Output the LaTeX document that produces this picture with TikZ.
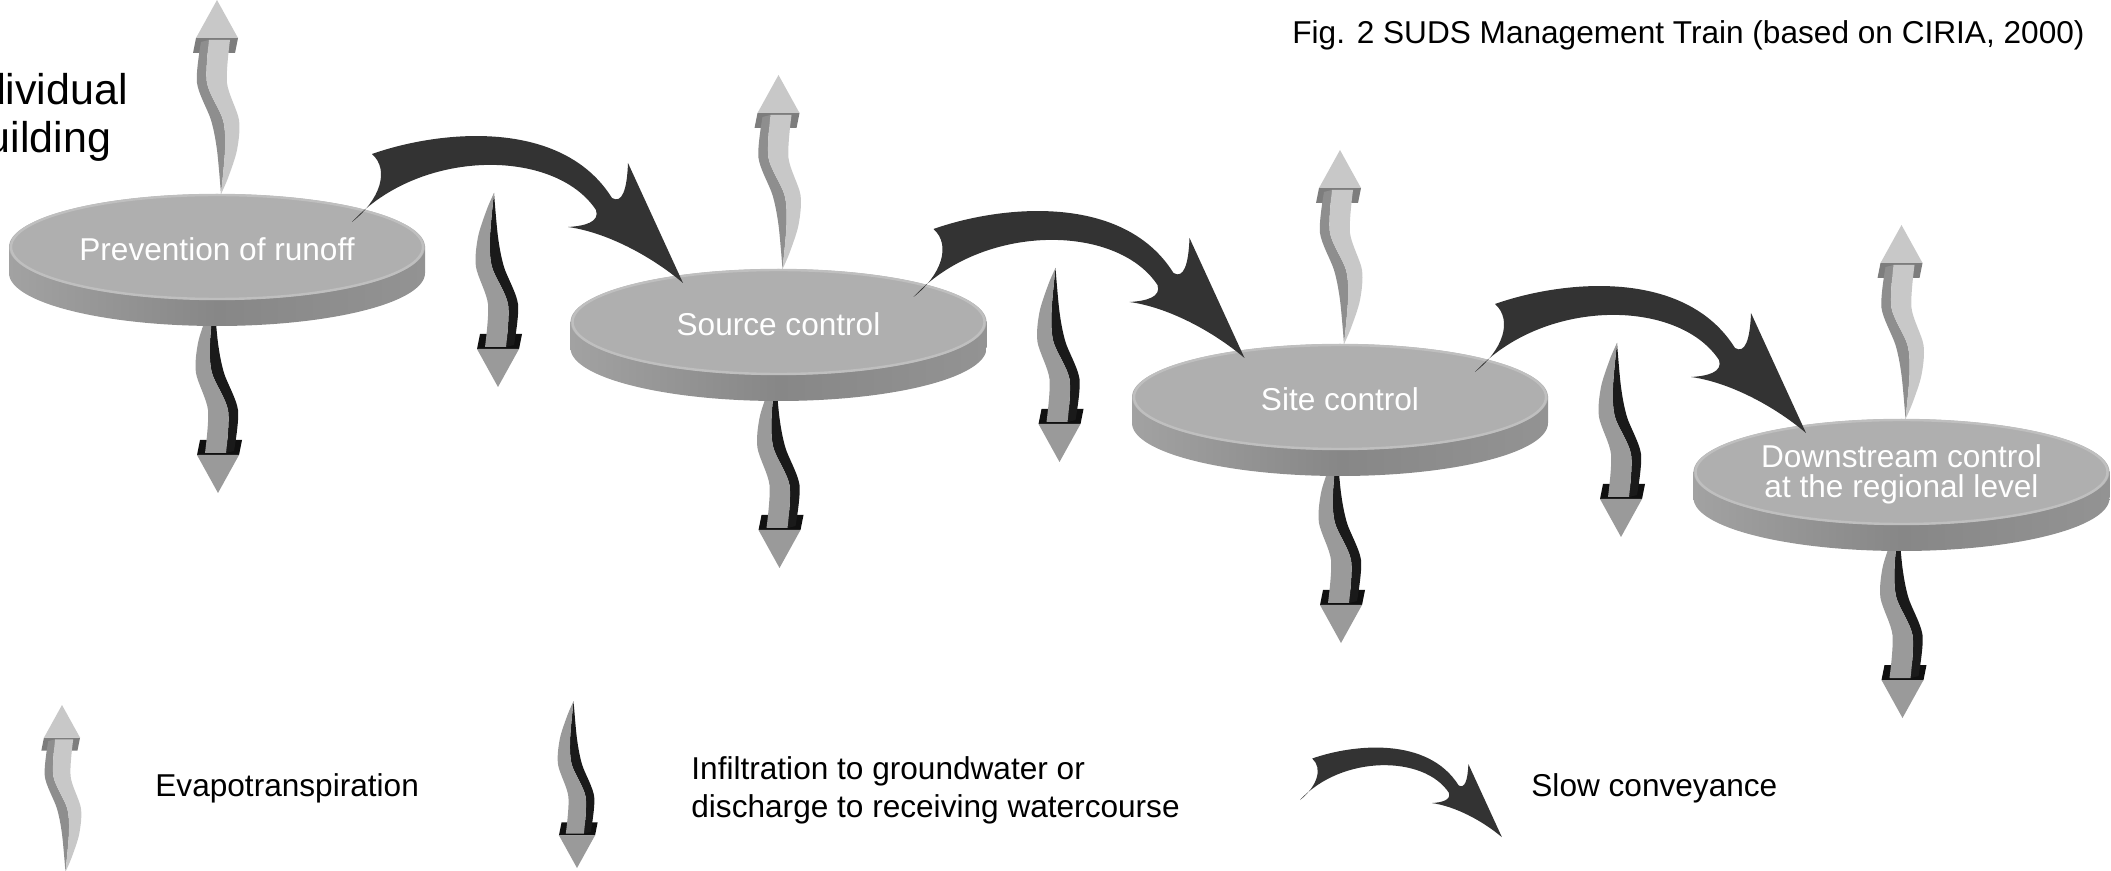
\documentclass[tikz,border=0pt]{standalone}
\usepackage{fontspec}
\setmainfont{Liberation Sans}
\definecolor{evfront}{HTML}{C8C8C8}
\definecolor{evside}{HTML}{8E8E8E}
\definecolor{evband}{HTML}{7D7D7D}
\definecolor{infront}{HTML}{9A9A9A}
\definecolor{inside}{HTML}{1A1A1A}
\definecolor{inband}{HTML}{101010}
\definecolor{convcol}{HTML}{333333}
\definecolor{disctop}{HTML}{AFAFAF}
\definecolor{discedge}{HTML}{BFBFBF}
\definecolor{rimlight}{HTML}{A2A2A2}
\definecolor{rimdark}{HTML}{878787}
\newcommand{\wavyshape}[3]{%
  \fill[#3] (-21,38) -- (21,38) -- (18,53) -- (-24,53) -- cycle;
  \fill[#2] plot[smooth] coordinates {(-8,40) (-10,83) (6,120) (8,150) (4,194)}
     -- plot[smooth] coordinates {(4,194) (0,150) (-6,120) (-20,83) (-16,42)} -- cycle;
  \fill[#1] plot[smooth] coordinates {(13,40) (10,83) (22,120) (20,150) (11,178) (4,194)}
     -- plot[smooth] coordinates {(4,194) (8,150) (6,120) (-10,83) (-8,40)} -- cycle;
  \fill[#1] (0,0) -- (21,38) -- (-21,38) -- cycle;
}
\newcommand{\discshape}{%
  \begin{scope}
    \clip (0,26) ellipse [x radius=208, y radius=53];
    \shade[left color=rimlight, right color=rimdark!90!white, middle color=rimdark] (-208,0) rectangle (208,80);
  \end{scope}
  \begin{scope}
    \clip (-208,0) rectangle (208,26);
    \shade[left color=rimlight, right color=rimdark!90!white, middle color=rimdark] (-208,0) rectangle (208,80);
  \end{scope}
  \fill[disctop] (0,0) ellipse [x radius=208, y radius=53];
  \draw[discedge, line width=1.2] (0,0) ellipse [x radius=206, y radius=52];
}
\tikzset{
  evap/.pic={\wavyshape{fill=evfront}{fill=evside}{fill=evband}},
  infil/.pic={\begin{scope}[rotate=180]\wavyshape{fill=infront}{fill=inside}{fill=inband}\end{scope}},
  conv/.pic={\fill[convcol] (0,0) .. controls (28,-22) and (38,-52) .. (20,-68)
     .. controls (88,-92) and (210,-104) .. (260,-24)
     .. controls (270,-18) and (275,-32) .. (276,-59)
     -- (331,61)
     .. controls (298,33) and (253,10) .. (216,5)
     .. controls (233,4) and (248,0) .. (244,-12)
     .. controls (203,-74) and (68,-74) .. (0,0) -- cycle;},
  disc/.pic={\discshape},
  lbl/.style={font=\fontsize{15.8pt}{19pt}\selectfont, inner sep=0pt},
  disctext/.style={lbl, text=white, align=center},
  sidelbl/.style={font=\fontsize{21.5pt}{26pt}\selectfont, inner sep=0pt, anchor=base},
}
\begin{document}
\begin{tikzpicture}[x=0.5pt,y=-0.5pt]
\useasboundingbox (0,0) rectangle (2111,871);
\coordinate (c1) at (217,247);
\coordinate (c2) at (778.5,322);
\coordinate (c3) at (1340,397);
\coordinate (c4) at (1901.5,472);
% title and side text
\node[lbl, anchor=base west] (title) at (1292,44) {Fig. 2 SUDS Management Train (based on CIRIA, 2000)};
\node[sidelbl] (ind1) at (37,105) {Individual};
\node[sidelbl] (ind2) at (37,153) {building};
% arrows behind discs
\foreach \c in {c1,c2,c3,c4}{
  \pic at ([shift={(0,-247)}]\c) {evap};
  \pic at ([shift={(1,246)}]\c) {infil};
}
\foreach \c in {c1,c2,c3}{
  \pic at ([shift={(281,140)}]\c) {infil};
}
% discs
\foreach \c in {c1,c2,c3,c4}{
  \pic at (\c) {disc};
}
\node[disctext] (t1) at ([shift={(0,2)}]c1) {Prevention of runoff};
\node[disctext] (t2) at ([shift={(0,2)}]c2) {Source control};
\node[disctext] (t3) at ([shift={(0,2)}]c3) {Site control};
\node[disctext, font=\fontsize{15.8pt}{15pt}\selectfont] (t4) at ([shift={(0,2)}]c4) {Downstream control\\at the regional level};
% conveyance arrows
\foreach \c in {c1,c2,c3}{
  \pic at ([shift={(135,-25)}]\c) {conv};
}
% legend
\pic[scale=0.86] at (62,705) {evap};
\node[lbl, anchor=base west] (lev) at (155,796) {Evapotranspiration};
\pic[scale=0.86] at (577,868) {infil};
\node[lbl, anchor=base west] (lin1) at (691,779) {Infiltration to groundwater or};
\node[lbl, anchor=base west] (lin2) at (691,817) {discharge to receiving watercourse};
\pic[scale=0.61] at (1300,800) {conv};
\node[lbl, anchor=base west] (lsc) at (1531,796) {Slow conveyance};
\end{tikzpicture}
\end{document}
